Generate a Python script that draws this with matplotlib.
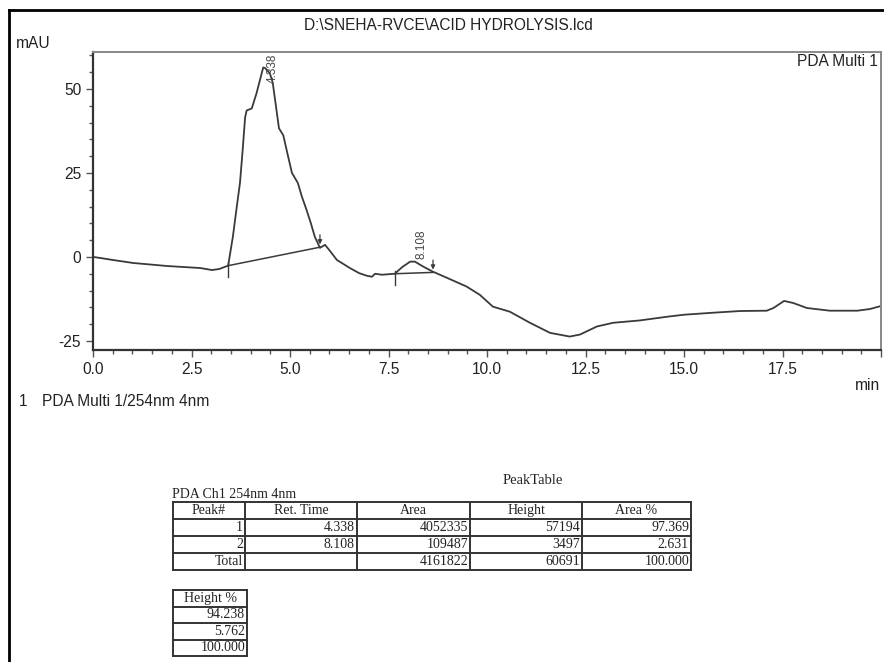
import matplotlib
matplotlib.use('Agg')
import matplotlib.pyplot as plt
from matplotlib.lines import Line2D
from matplotlib.ticker import MultipleLocator, FuncFormatter

plt.rcParams['axes.unicode_minus'] = False
plt.rcParams['font.family'] = ['Liberation Sans', 'DejaVu Sans']

# chromatogram trace (min, mAU)
time_min = [0.0, 0.18, 0.5, 1.02, 1.5, 1.88, 2.3, 2.72, 3.02, 3.2, 3.43, 3.55, 3.65, 3.73,
            3.8, 3.86, 3.9, 4.03, 4.15, 4.32, 4.37, 4.49, 4.56, 4.72, 4.83, 4.95, 5.05, 5.2,
            5.3, 5.42, 5.53, 5.63, 5.76, 5.89, 6.0, 6.19, 6.52, 6.75, 6.95, 7.08, 7.16, 7.33,
            7.66, 7.85, 8.05, 8.17, 8.4, 8.63, 8.98, 9.48, 9.82, 10.15, 10.58, 11.09, 11.6,
            12.1, 12.36, 12.79, 13.2, 13.88, 14.57, 15.0, 15.74, 16.42, 17.1, 17.27, 17.54,
            17.77, 18.12, 18.7, 19.4, 19.72, 20.0]
signal_mau = [0.0, -0.3, -0.9, -1.8, -2.3, -2.7, -3.0, -3.3, -3.9, -3.6, -2.6, 6.0, 15.0, 22.0,
              32.0, 41.5, 43.6, 44.2, 48.7, 56.4, 56.2, 54.6, 52.0, 38.3, 36.2, 30.0, 25.0, 22.0,
              18.0, 14.0, 10.0, 6.0, 2.7, 3.6, 2.0, -0.9, -3.3, -4.8, -5.6, -5.9, -5.0, -5.3,
              -5.0, -3.0, -1.4, -1.4, -3.0, -4.4, -6.2, -8.8, -11.3, -14.8, -16.3, -19.6, -22.6,
              -23.7, -23.1, -20.7, -19.6, -18.9, -17.8, -17.2, -16.6, -16.1, -16.0, -15.2, -13.1,
              -13.7, -15.2, -16.0, -16.0, -15.5, -14.6]

# integration baselines (start, end) of each peak
peak_ret_time = [4.338, 8.108]
peak_start = [(3.43, -2.6), (7.66, -5.0)]
peak_end = [(5.76, 2.9), (8.63, -4.6)]
peak_label_y = [60.5, -0.5]

# peak table
table_header = ['Peak#', 'Ret. Time', 'Area', 'Height', 'Area %']
table_rows = [['1', '4.338', '4052335', '57194', '97.369'],
              ['2', '8.108', '109487', '3497', '2.631'],
              ['Total', '', '4161822', '60691', '100.000']]
height_header = ['Height %']
height_rows = [['94.238'], ['5.762'], ['100.000']]

W, H = 884, 662
fig = plt.figure(figsize=(W / 100, H / 100), dpi=100)
SANS = 11.2


def fx(px):
    return px / W


def fy(py):
    return 1 - py / H


def draw_table(cols, top, row_h, header, rows):
    n = len(rows) + 1
    bottom = top + row_h * n
    for c in cols:
        fig.add_artist(Line2D([fx(c), fx(c)], [fy(top), fy(bottom)], color='#333333', lw=1.4))
    for r in range(n + 1):
        y = top + r * row_h
        fig.add_artist(Line2D([fx(cols[0]), fx(cols[-1])], [fy(y), fy(y)], color='#333333', lw=1.4))
    for i, h in enumerate(header):
        fig.text(fx((cols[i] + cols[i + 1]) / 2), fy(top + row_h / 2), h, ha='center', va='center',
                 family='Liberation Serif', fontsize=10, color='#222222')
    for r, row in enumerate(rows):
        for i, v in enumerate(row):
            fig.text(fx(cols[i + 1] - 2), fy(top + row_h * (r + 1.5)), v, ha='right', va='center',
                     family='Liberation Serif', fontsize=10, color='#222222')


# outer page border
fig.add_artist(Line2D([fx(9), fx(9)], [fy(10), 0], color='black', lw=2))
fig.add_artist(Line2D([fx(9), 1], [fy(10), fy(10)], color='black', lw=2))

ax = fig.add_axes([fx(93), fy(350), fx(881) - fx(93), fy(52) - fy(350)])
ax.plot(time_min, signal_mau, color='#3a3a3a', lw=1.3)
for (x0, y0), (x1, y1) in zip(peak_start, peak_end):
    ax.plot([x0, x1], [y0, y1], color='#3a3a3a', lw=1.1)
    ax.plot([x0, x0], [y0 + 0.8, y0 - 3.5], color='#3a3a3a', lw=1.0)
    ax.annotate('', xy=(x1, y1), xytext=(x1, y1 + 4.5),
                arrowprops=dict(arrowstyle='-|>', color='#3a3a3a', lw=0.9, mutation_scale=6))
for rt, ly in zip(peak_ret_time, peak_label_y):
    ax.text(rt + 0.22, ly, f'{rt:.3f}', rotation=90, ha='center',
            va='top' if ly > 30 else 'bottom', fontsize=8.5, color='#444444')

ax.set_xlim(0, 20)
ax.set_ylim(-27.7, 61)
ax.xaxis.set_major_locator(MultipleLocator(2.5))
ax.xaxis.set_minor_locator(MultipleLocator(0.5))
ax.yaxis.set_major_locator(MultipleLocator(25))
ax.yaxis.set_minor_locator(MultipleLocator(5))
ax.xaxis.set_major_formatter(FuncFormatter(lambda v, p: '' if v >= 20 else f'{v:.1f}'))
ax.tick_params(which='major', length=5, width=1, color='#555555', labelsize=SANS, labelcolor='#222222')
ax.tick_params(which='minor', length=3, width=1, color='#555555')
for side in ['left', 'bottom']:
    ax.spines[side].set_color('#333333')
    ax.spines[side].set_linewidth(1.6)
for side in ['top', 'right']:
    ax.spines[side].set_color('#888888')
    ax.spines[side].set_linewidth(1.4)

fig.text(fx(448), fy(25), 'D:\\SNEHA-RVCE\\ACID HYDROLYSIS.lcd', ha='center', va='center',
         fontsize=SANS, color='#222222')
fig.text(fx(16), fy(43), 'mAU', ha='left', va='center', fontsize=SANS, color='#222222')
fig.text(fx(878), fy(61), 'PDA Multi 1', ha='right', va='center', fontsize=SANS, color='#222222')
fig.text(fx(880), fy(385), 'min', ha='right', va='center', fontsize=SANS, color='#222222')
fig.text(fx(19), fy(401), '1', ha='left', va='center', fontsize=SANS, color='#222222')
fig.text(fx(42), fy(401), 'PDA Multi 1/254nm 4nm', ha='left', va='center', fontsize=SANS,
         color='#222222')

fig.text(fx(533), fy(480), 'PeakTable', ha='center', va='center', family='Liberation Serif',
         fontsize=10.5, color='#222222')
fig.text(fx(172), fy(495), 'PDA Ch1 254nm 4nm', ha='left', va='center', family='Liberation Serif',
         fontsize=10, color='#222222')
draw_table([173, 245, 357, 470, 582, 691], 502, 17, table_header, table_rows)
draw_table([173, 247], 590, 16.5, height_header, height_rows)

fig.savefig('out.png', dpi=100)
